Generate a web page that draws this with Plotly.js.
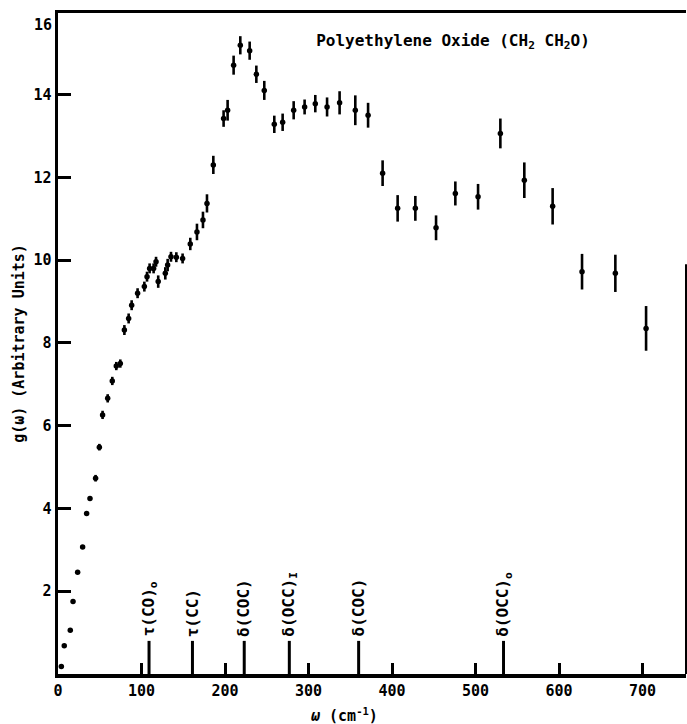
<!DOCTYPE html>
<html>
<head>
<meta charset="utf-8">
<script src="https://cdn.plot.ly/plotly-3.0.1.min.js"></script>
<style>html,body{margin:0;padding:0;background:#fff}#chart{width:687px;height:724px}</style>
</head>
<body>
<div id="chart"></div>
<script>
// Measured density of states g(omega) for polyethylene oxide
var omega = [4, 7.5, 14.7, 18, 23.5, 29.5, 34.3, 38.3, 45, 49.5, 53.4, 59.5, 65, 69.8, 74.6,
  79.5, 84.6, 88.2, 95.3, 103.4, 106.6, 109.7, 114.5, 117.4, 120, 128.5, 131.3, 135.3, 141.7, 149.2,
  158.4, 166.4, 173.6, 178.4, 186, 198.3, 203.1, 210.3, 218.3, 229.5, 237.5, 247, 259, 269,
  282.2, 295.3, 308.1, 322.2, 337.2, 356, 371.3, 388.7, 406.7, 427.9, 452.7, 475.8, 503,
  529.7, 558.4, 592.3, 627.5, 667.4, 704.2];
var gOmega = [0.18, 0.68, 1.06, 1.75, 2.46, 3.07, 3.88, 4.24, 4.73, 5.48, 6.26, 6.66, 7.08, 7.44, 7.5,
  8.31, 8.59, 8.91, 9.2, 9.36, 9.6, 9.8, 9.8, 9.96, 9.48, 9.68, 9.88, 10.08, 10.07, 10.04,
  10.39, 10.68, 10.97, 11.37, 12.3, 13.42, 13.62, 14.71, 15.19, 15.06, 14.49, 14.1, 13.28, 13.33,
  13.62, 13.7, 13.78, 13.7, 13.8, 13.62, 13.5, 12.1, 11.25, 11.25, 10.78, 11.61, 11.53,
  13.06, 11.93, 11.3, 9.72, 9.68, 8.35];
var gErr = [0, 0, 0, 0, 0, 0, 0, 0, 0.08, 0.08, 0.1, 0.1, 0.1, 0.1, 0.1,
  0.12, 0.12, 0.12, 0.12, 0.12, 0.12, 0.12, 0.12, 0.12, 0.15, 0.15, 0.15, 0.12, 0.12, 0.12,
  0.15, 0.2, 0.2, 0.22, 0.22, 0.2, 0.25, 0.23, 0.22, 0.22, 0.21, 0.23, 0.21, 0.21,
  0.22, 0.18, 0.21, 0.23, 0.28, 0.36, 0.3, 0.31, 0.32, 0.3, 0.3, 0.29, 0.31,
  0.36, 0.43, 0.44, 0.43, 0.45, 0.54];

// Calculated normal-mode frequencies (assignments)
var modeOmega = [109, 161, 223, 277, 360, 533.5];
var modeHeight = [0.8, 0.8, 0.8, 0.8, 0.8, 0.8];
var modeLabels = ['τ(CO)<sub>o</sub>', 'τ(CC)', 'δ(COC)', 'δ(OCC)<sub>I</sub>', 'δ(COC)', 'δ(OCC)<sub>o</sub>'];

var xTicks = [0, 100, 200, 300, 400, 500, 600, 700];
var yTicks = [2, 4, 6, 8, 10, 12, 14];

var FONT = 'DejaVu Sans Mono, monospace';

var mx = [], my = [];
for (var i = 0; i < modeOmega.length; i++) {
  mx.push(modeOmega[i], modeOmega[i], null);
  my.push(0, modeHeight[i], null);
}

var traces = [
  {
    x: omega, y: gOmega, type: 'scatter', mode: 'markers',
    marker: {color: '#000', size: 5.5, symbol: 'circle'},
    error_y: {type: 'data', array: gErr, visible: true, color: '#000', thickness: 2.6, width: 0},
    hoverinfo: 'x+y', showlegend: false
  },
  {
    x: mx, y: my, type: 'scatter', mode: 'lines',
    line: {color: '#000', width: 3}, hoverinfo: 'skip', showlegend: false
  }
];

var annotations = [];
for (var j = 0; j < modeOmega.length; j++) {
  annotations.push({
    x: modeOmega[j], y: modeHeight[j] + 0.05, xref: 'x', yref: 'y',
    text: modeLabels[j], showarrow: false, textangle: -90,
    xanchor: 'center', yanchor: 'bottom',
    font: {family: FONT, size: 16, color: '#000', weight: 'bold'}
  });
}
annotations.push({
  x: 0, y: 15.68, xref: 'paper', yref: 'y', text: '16', showarrow: false,
  xanchor: 'right', yanchor: 'middle', xshift: -4,
  font: {family: FONT, size: 15, color: '#000', weight: 'bold'}
});
annotations.push({
  x: (344 - 58) / 628, y: -(715 - 674) / 661, xref: 'paper', yref: 'paper',
  text: '<i>ω</i> (cm<sup>-1</sup>)', showarrow: false,
  xanchor: 'center', yanchor: 'middle',
  font: {family: FONT, size: 15, color: '#000', weight: 'bold'}
});

var layout = {
  width: 687, height: 724,
  margin: {l: 58, r: 1, t: 13, b: 50},
  paper_bgcolor: '#fff', plot_bgcolor: '#fff',
  title: {
    text: 'Polyethylene Oxide (CH<sub>2</sub> CH<sub>2</sub>O)',
    x: 453 / 687, y: 1 - 40 / 724, xref: 'container', yref: 'container',
    xanchor: 'center', yanchor: 'middle',
    font: {family: FONT, size: 16, color: '#000', weight: 'bold'}
  },
  xaxis: {
    range: [0, 752], tickmode: 'array', tickvals: xTicks, ticktext: xTicks.map(String),
    ticks: 'inside', ticklen: 11, tickwidth: 3, tickcolor: '#000',
    showline: true, linecolor: '#000', linewidth: 3.5, mirror: true,
    showgrid: false, zeroline: false,
    tickfont: {family: FONT, size: 15, color: '#000', weight: 'bold'}
  },
  yaxis: {
    range: [0, 15.97], tickmode: 'array', tickvals: yTicks, ticktext: yTicks.map(String),
    ticks: 'inside', ticklen: 13, tickwidth: 3, tickcolor: '#000',
    showline: true, linecolor: '#000', linewidth: 3.5,
    showgrid: false, zeroline: false,
    tickfont: {family: FONT, size: 15, color: '#000', weight: 'bold'},
    title: {text: 'g(ω) (Arbitrary Units)', standoff: 6,
      font: {family: FONT, size: 15, color: '#000', weight: 'bold'}}
  },
  shapes: [{
    type: 'line', xref: 'paper', yref: 'paper', x0: 1, x1: 1, y0: 0, y1: 0.62,
    line: {color: '#000', width: 2}
  }],
  annotations: annotations
};

Plotly.newPlot('chart', traces, layout, {displayModeBar: false, staticPlot: true});
</script>
</body>
</html>
